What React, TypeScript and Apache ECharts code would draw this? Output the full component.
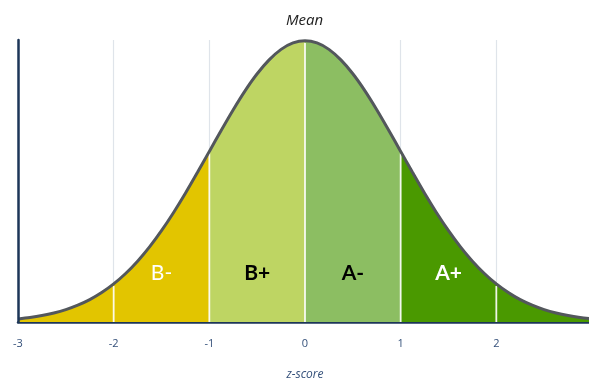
import React, { useEffect, useRef } from "react";
import * as echarts from "echarts";

// z-score sample points and the bell-curve heights (left half; curve is symmetric)
const zLeft = [
  -3, -2.875, -2.75, -2.625, -2.5, -2.375, -2.25, -2.125, -2, -1.875, -1.75,
  -1.625, -1.5, -1.375, -1.25, -1.125, -1, -0.875, -0.75, -0.625, -0.5, -0.375,
  -0.25, -0.125, 0,
];
const densityLeft = [
  0.0044, 0.0064, 0.0091, 0.0127, 0.0175, 0.0238, 0.0317, 0.0417, 0.054, 0.0688,
  0.0863, 0.1065, 0.1295, 0.155, 0.1826, 0.2119, 0.242, 0.272, 0.3011, 0.3282,
  0.3521, 0.3718, 0.3867, 0.3958, 0.3989,
];

// grade bands
const bandNames = ["B-", "B+", "A-", "A+"];
const bandStarts = [-3, -1, 0, 1];
const bandEnds = [-1, 0, 1, 3];
const bandColors = ["#e2c500", "#bed563", "#8cbe62", "#4a9900"];
const labelCenters = [-1.5, -0.5, 0.5, 1.5];
const labelHeight = 0.071;
const labelColors = ["#ffffff", "#000000", "#000000", "#ffffff"];
const labelWeights = ["normal", "bold", "bold", "bold"];

// white divider lines inside the fill
const dividers = [-2, -1, 0, 1, 2];

// axis ticks
const xTicks = [-3, -2, -1, 0, 1, 2, 3];

const points: number[][] = [
  ...zLeft.map((z, i) => [z, densityLeft[i]]),
  ...zLeft
    .slice(0, -1)
    .map((z, i) => [-z, densityLeft[i]])
    .reverse(),
];

const heightAt = (z: number) => {
  const p = points.find((q) => q[0] === z);
  return p ? p[1] : 0;
};

export default function App() {
  const ref = useRef<HTMLDivElement>(null);

  useEffect(() => {
    if (!ref.current) return;
    const chart = echarts.init(ref.current, null, { renderer: "svg" });

    const bandSeries = bandNames.map((name, i) => ({
      name,
      type: "line",
      data: points.filter((p) => p[0] >= bandStarts[i] && p[0] <= bandEnds[i]),
      smooth: 0.3,
      symbol: "none",
      lineStyle: { width: 0 },
      areaStyle: { color: bandColors[i], opacity: 1 },
      z: 2,
      silent: true,
    }));

    const dividerSeries = dividers.map((d) => ({
      type: "line",
      data: [
        [d, 0],
        [d, heightAt(d) - 0.003],
      ],
      symbol: "none",
      lineStyle: { color: "rgba(255,255,255,0.9)", width: 1.8 },
      z: 3,
      silent: true,
    }));

    chart.setOption({
      animation: false,
      grid: {
        left: 18,
        right: -3,
        top: 40,
        bottom: 59,
        containLabel: false,
        outerBoundsMode: "none",
      },
      graphic: [
        {
          type: "text",
          left: 286,
          top: 11,
          style: {
            text: "Mean",
            font: "italic 15px 'Open Sans', sans-serif",
            fill: "#222222",
          },
        },
      ],
      xAxis: {
        type: "value",
        min: -3,
        max: 3,
        interval: 1,
        name: "z-score",
        nameLocation: "middle",
        nameGap: 45,
        nameTextStyle: {
          color: "#34507a",
          fontStyle: "italic",
          fontSize: 12,
          fontFamily: "'Open Sans', sans-serif",
        },
        axisLine: { show: true, onZero: false, lineStyle: { color: "#1d3658", width: 2.5 } },
        axisTick: { show: false },
        axisLabel: {
          color: "#34507a",
          fontSize: 11,
          margin: 15,
          fontFamily: "'Open Sans', sans-serif",
          formatter: (v: number) => (xTicks.includes(v) ? String(v) : ""),
        },
        splitLine: { show: true, lineStyle: { color: "#dfe4ea", width: 1.2 } },
        z: 1,
      },
      yAxis: {
        type: "value",
        min: 0,
        max: 0.4,
        axisLine: { show: true, onZero: false, lineStyle: { color: "#1d3658", width: 2.5 } },
        axisTick: { show: false },
        axisLabel: { show: false },
        splitLine: { show: false },
        z: 6,
      },
      series: [
        ...bandSeries,
        ...dividerSeries,
        {
          type: "line",
          data: points,
          smooth: 0.3,
          symbol: "none",
          lineStyle: { color: "#53575c", width: 3 },
          z: 4,
          silent: true,
        },
        {
          type: "scatter",
          data: labelCenters.map((c, i) => ({
            value: [c, labelHeight],
            label: {
              show: true,
              formatter: bandNames[i],
              position: "inside",
              color: labelColors[i],
              fontWeight: labelWeights[i],
              fontSize: 21,
              fontFamily: "Lato, 'Open Sans', sans-serif",
              textBorderWidth: 0,
              opacity: 1,
            },
          })),
          symbolSize: 1,
          itemStyle: { color: "rgba(0,0,0,0)" },
          z: 5,
          silent: true,
        },
      ],
    });

    return () => chart.dispose();
  }, []);

  return (
    <div
      ref={ref}
      style={{ position: "fixed", left: 0, top: 0, width: 589, height: 381 }}
    />
  );
}
